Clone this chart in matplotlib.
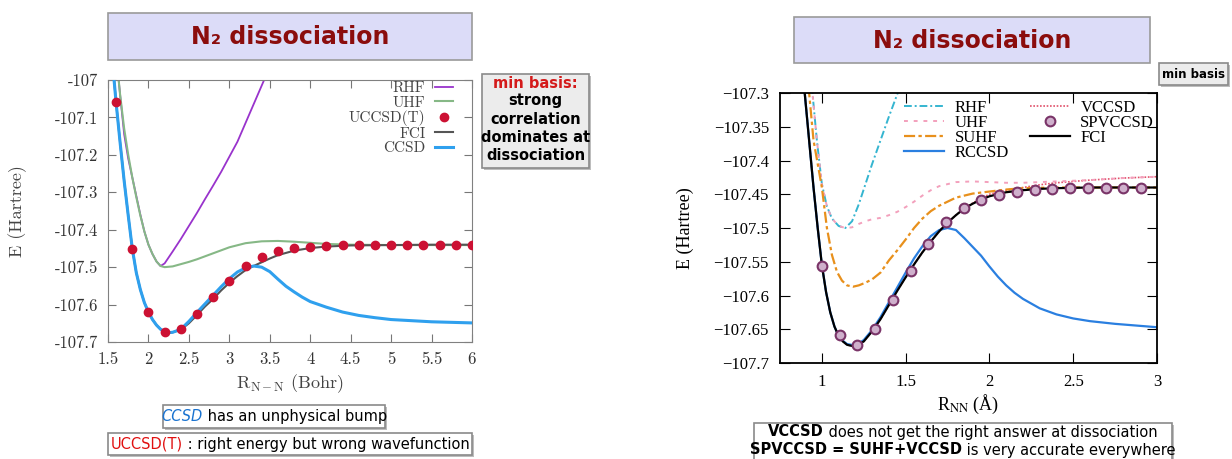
import matplotlib.pyplot as plt
from matplotlib.patches import Rectangle

W, H = 1232, 459

# ---------------- left panel (Bohr) ----------------
left_ticks_x = [1.5, 2, 2.5, 3, 3.5, 4, 4.5, 5, 5.5, 6]
left_ticks_y = [-107.7, -107.6, -107.5, -107.4, -107.3, -107.2, -107.1, -107.0]

rhf_b_r = [1.6, 1.65, 1.7, 1.75, 1.8, 1.85, 1.9, 1.95, 2.0, 2.05, 2.1, 2.15, 2.2, 2.3, 2.4,
           2.5, 2.6, 2.7, 2.8, 2.9, 3.0, 3.1, 3.2, 3.3, 3.4, 3.5]
rhf_b_e = [-106.93, -107.04, -107.145, -107.21, -107.26, -107.31, -107.36, -107.405, -107.44,
           -107.465, -107.485, -107.497, -107.49, -107.458, -107.425, -107.39, -107.355,
           -107.318, -107.282, -107.245, -107.205, -107.165, -107.115, -107.065, -107.015, -106.965]

uhf_b_r = [1.6, 1.65, 1.7, 1.75, 1.8, 1.85, 1.9, 1.95, 2.0, 2.05, 2.1, 2.15, 2.2, 2.3, 2.4, 2.5,
           2.6, 2.8, 3.0, 3.2, 3.4, 3.6, 3.8, 4.0, 4.2, 4.5, 5.0, 6.0]
uhf_b_e = [-106.93, -107.04, -107.13, -107.2, -107.26, -107.313, -107.362, -107.405, -107.44,
           -107.465, -107.485, -107.497, -107.5, -107.498, -107.492, -107.486, -107.479,
           -107.463, -107.447, -107.436, -107.431, -107.43, -107.432, -107.435, -107.438,
           -107.44, -107.441, -107.441]

fci_b_r = [1.55, 1.6, 1.65, 1.7, 1.75, 1.8, 1.85, 1.9, 1.95, 2.0, 2.05, 2.1, 2.15, 2.2, 2.25,
           2.3, 2.4, 2.5, 2.6, 2.7, 2.8, 2.9, 3.0, 3.1, 3.2, 3.3, 3.4, 3.5, 3.6, 3.8, 4.0,
           4.2, 4.5, 5.0, 5.5, 6.0]
fci_b_e = [-106.94, -107.06, -107.168, -107.27, -107.362, -107.45, -107.515, -107.56,
           -107.595, -107.62, -107.64, -107.655, -107.666, -107.672, -107.675, -107.674,
           -107.667, -107.65, -107.628, -107.605, -107.585, -107.562, -107.542, -107.524,
           -107.508, -107.497, -107.487, -107.477, -107.468, -107.456, -107.449, -107.445,
           -107.442, -107.441, -107.44, -107.44]

ccsd_b_r = [1.55, 1.6, 1.65, 1.7, 1.75, 1.8, 1.85, 1.9, 1.95, 2.0, 2.05, 2.1, 2.15, 2.2,
            2.25, 2.3, 2.4, 2.5, 2.6, 2.7, 2.8, 2.9, 3.0, 3.1, 3.2, 3.3, 3.4, 3.5, 3.6, 3.7,
            3.8, 3.9, 4.0, 4.2, 4.4, 4.6, 4.8, 5.0, 5.5, 6.0]
ccsd_b_e = [-106.94, -107.06, -107.168, -107.27, -107.362, -107.45, -107.515, -107.56,
            -107.595, -107.62, -107.64, -107.655, -107.666, -107.672, -107.675, -107.674,
            -107.666, -107.645, -107.621, -107.598, -107.575, -107.552, -107.531, -107.513,
            -107.502, -107.497, -107.5, -107.512, -107.532, -107.551, -107.566, -107.58,
            -107.592, -107.607, -107.62, -107.629, -107.635, -107.64, -107.646, -107.649]

uccsdt_r = [1.6, 1.8, 2.0, 2.2, 2.4, 2.6, 2.8, 3.0, 3.2, 3.4, 3.6, 3.8, 4.0, 4.2, 4.4, 4.6,
            4.8, 5.0, 5.2, 5.4, 5.6, 5.8, 6.0]
uccsdt_e = [-107.058, -107.452, -107.62, -107.672, -107.665, -107.625, -107.581, -107.536,
            -107.497, -107.474, -107.458, -107.45, -107.446, -107.443, -107.442, -107.441,
            -107.441, -107.44, -107.44, -107.44, -107.44, -107.44, -107.44]

# ---------------- right panel (Angstrom) ----------------
right_ticks_x = [1, 1.5, 2, 2.5, 3]
right_ticks_y = [-107.7, -107.65, -107.6, -107.55, -107.5, -107.45, -107.4, -107.35, -107.3]

rhf_a_r = [0.94, 0.97, 1.0, 1.03, 1.06, 1.1, 1.14, 1.18, 1.22, 1.26, 1.3, 1.35, 1.4, 1.46]
rhf_a_e = [-107.29, -107.37, -107.435, -107.468, -107.486, -107.497, -107.5, -107.49,
           -107.465, -107.435, -107.405, -107.37, -107.335, -107.295]

uhf_a_r = [0.94, 0.97, 1.0, 1.03, 1.06, 1.1, 1.14, 1.18, 1.22, 1.26, 1.3, 1.35, 1.4, 1.45,
           1.5, 1.55, 1.6, 1.65, 1.7, 1.8, 1.9, 2.0, 2.1, 2.2, 2.3, 2.4, 2.6, 2.8, 3.0]
uhf_a_e = [-107.29, -107.37, -107.435, -107.468, -107.486, -107.497, -107.5, -107.499,
           -107.494, -107.49, -107.487, -107.485, -107.481, -107.476, -107.469, -107.461,
           -107.452, -107.444, -107.438, -107.432, -107.431, -107.432, -107.433, -107.433,
           -107.432, -107.431, -107.429, -107.426, -107.424]

suhf_a_r = [0.92, 0.95, 1.0, 1.03, 1.06, 1.09, 1.12, 1.15, 1.185, 1.22, 1.26, 1.3, 1.35, 1.4,
            1.45, 1.5, 1.55, 1.6, 1.65, 1.7, 1.8, 1.9, 2.0, 2.1, 2.2, 2.4, 3.0]
suhf_a_e = [-107.29, -107.37, -107.44, -107.5, -107.54, -107.565, -107.578, -107.585,
            -107.587, -107.585, -107.581, -107.576, -107.566, -107.548, -107.533, -107.517,
            -107.5, -107.486, -107.475, -107.467, -107.455, -107.449, -107.446, -107.443,
            -107.441, -107.44, -107.44]

fci_a_r = [0.89, 0.92, 0.95, 0.975, 1.0, 1.025, 1.05, 1.075, 1.1, 1.125, 1.15, 1.2, 1.25,
           1.3, 1.35, 1.4, 1.45, 1.5, 1.55, 1.6, 1.65, 1.7, 1.75, 1.8, 1.85, 1.9, 1.95, 2.0,
           2.1, 2.2, 2.3, 2.4, 2.6, 2.8, 3.0]
fci_a_e = [-107.28, -107.36, -107.44, -107.5, -107.555, -107.595, -107.625, -107.646,
           -107.66, -107.668, -107.673, -107.676, -107.668, -107.653, -107.635, -107.614,
           -107.593, -107.573, -107.554, -107.536, -107.52, -107.505, -107.492, -107.481,
           -107.471, -107.464, -107.458, -107.453, -107.447, -107.444, -107.442, -107.441,
           -107.44, -107.44, -107.44]

rccsd_a_r = [0.89, 0.92, 0.95, 0.975, 1.0, 1.025, 1.05, 1.075, 1.1, 1.125, 1.15, 1.2, 1.25,
             1.3, 1.35, 1.4, 1.45, 1.5, 1.55, 1.6, 1.65, 1.7, 1.75, 1.8, 1.85, 1.9, 1.95,
             2.0, 2.05, 2.1, 2.15, 2.2, 2.3, 2.4, 2.5, 2.6, 2.75, 3.0]
rccsd_a_e = [-107.28, -107.36, -107.44, -107.5, -107.555, -107.595, -107.625, -107.646,
             -107.66, -107.667, -107.672, -107.674, -107.666, -107.651, -107.632, -107.61,
             -107.588, -107.566, -107.545, -107.527, -107.512, -107.503, -107.5, -107.503,
             -107.515, -107.528, -107.541, -107.557, -107.572, -107.585, -107.596, -107.605,
             -107.619, -107.628, -107.634, -107.638, -107.642, -107.647]

vccsd_a_r = [0.89, 0.92, 0.95, 0.975, 1.0, 1.025, 1.05, 1.075, 1.1, 1.125, 1.15, 1.2, 1.25,
             1.3, 1.35, 1.4, 1.45, 1.5, 1.55, 1.6, 1.65, 1.7, 1.75, 1.8, 1.85, 1.9, 1.95,
             2.0, 2.1, 2.2, 2.3, 2.4, 2.5, 2.6, 2.8, 3.0]
vccsd_a_e = [-107.28, -107.36, -107.44, -107.5, -107.555, -107.595, -107.625, -107.646,
             -107.66, -107.668, -107.673, -107.676, -107.668, -107.653, -107.635, -107.614,
             -107.593, -107.573, -107.554, -107.536, -107.52, -107.505, -107.492, -107.481,
             -107.471, -107.463, -107.456, -107.45, -107.444, -107.44, -107.436, -107.433,
             -107.431, -107.429, -107.426, -107.424]

spv_r = [1.0, 1.106, 1.212, 1.317, 1.423, 1.529, 1.635, 1.741, 1.846, 1.952, 2.058, 2.164,
         2.27, 2.375, 2.481, 2.587, 2.693, 2.799, 2.905]
spv_e = [-107.556, -107.658, -107.674, -107.649, -107.607, -107.563, -107.523, -107.491,
         -107.471, -107.458, -107.451, -107.447, -107.443, -107.442, -107.441, -107.44,
         -107.44, -107.44, -107.44]

# ---------------- figure ----------------
fig = plt.figure(figsize=(W / 100, H / 100), dpi=100)
fig.patch.set_facecolor("white")


def box(x0, y0, x1, y1, face, edge="#8f8f8f", lw=1.2, shadow=False):
    if shadow:
        fig.patches.append(Rectangle(((x0 + 2) / W, 1 - (y1 + 2) / H), (x1 - x0) / W,
                                     (y1 - y0) / H, transform=fig.transFigure,
                                     facecolor="#bdbdbd", edgecolor="none", zorder=0))
    fig.patches.append(Rectangle((x0 / W, 1 - y1 / H), (x1 - x0) / W, (y1 - y0) / H,
                                 transform=fig.transFigure, facecolor=face,
                                 edgecolor=edge, linewidth=lw, zorder=1))


def rich_line(parts, xc, y, size):
    r = fig.canvas.get_renderer()
    texts = []
    for s, color, weight, style in parts:
        t = fig.text(0, 1 - y / H, s, color=color, fontweight=weight, fontstyle=style,
                     fontsize=size, va="center", ha="left", family="DejaVu Sans", zorder=3)
        texts.append(t)
    widths = [t.get_window_extent(r).width for t in texts]
    x = xc - sum(widths) / 2
    for t, w in zip(texts, widths):
        t.set_x(x / W)
        x += w


# ---- left axes ----
ax1 = fig.add_axes([108 / W, 1 - 342 / H, 364 / W, 262 / H])
ax1.plot(rhf_b_r, rhf_b_e, color="#9933cc", lw=1.3, label="RHF")
ax1.plot(uhf_b_r, uhf_b_e, color="#86b886", lw=1.5, label="UHF")
ax1.plot(fci_b_r, fci_b_e, color="#555555", lw=1.5, label="FCI", zorder=3)
ax1.plot(ccsd_b_r, ccsd_b_e, color="#2fa0ee", lw=2.2, label="CCSD", zorder=4)
ax1.plot(uccsdt_r, uccsdt_e, "o", color="#cc1133", ms=6, label="UCCSD(T)", zorder=5)
ax1.set_xlim(1.5, 6)
ax1.set_ylim(-107.7, -107.0)
ax1.set_xticks(left_ticks_x, labels=[f"{v:g}" for v in left_ticks_x])
ax1.set_yticks(left_ticks_y, labels=[f"{v:g}" for v in left_ticks_y])
ax1.tick_params(direction="in", length=6, top=True, right=True, color="#777777",
                labelsize=12, pad=7, labelcolor="#333333")
for lab in ax1.get_xticklabels() + ax1.get_yticklabels():
    lab.set_family("cmr10")
for sp in ax1.spines.values():
    sp.set_color("#808080")
ax1.set_xlabel(r"R$_{\mathrm{N-N}}$ (Bohr)", family="cmr10", fontsize=13,
               math_fontfamily="cm", color="#444444")
ax1.xaxis.set_label_coords(0.5, -(372 - 342) / 262)
ax1.set_ylabel("E (Hartree)", family="cmr10", fontsize=13, color="#444444")
ax1.yaxis.set_label_coords(-(108 - 27) / 364, 0.5)
h, l = ax1.get_legend_handles_labels()
order = [0, 1, 4, 2, 3]
ax1.legend([h[i] for i in order], [l[i] for i in order], loc="upper right",
           bbox_to_anchor=(0.948, 0.995), markerfirst=False, frameon=False,
           prop={"family": "cmr10", "size": 11}, handlelength=1.2, labelspacing=0.05,
           borderaxespad=0, borderpad=0, handletextpad=0.6, labelcolor="#444444")

# ---- right axes ----
ax2 = fig.add_axes([780 / W, 1 - 363 / H, 377 / W, 270 / H])
ax2.plot(vccsd_a_r, vccsd_a_e, color="#e0506a", lw=1.2, ls=(0, (1, 1)), label="VCCSD")
ax2.plot(rhf_a_r, rhf_a_e, color="#35b5d0", lw=1.4, ls=(0, (4, 1.5, 1, 1.5)), label="RHF")
ax2.plot(uhf_a_r, uhf_a_e, color="#f3a0bc", lw=1.4, ls=(0, (2, 3)), label="UHF")
ax2.plot(suhf_a_r, suhf_a_e, color="#e8901c", lw=1.6, ls=(0, (5, 1.5, 1.5, 1.5)), label="SUHF")
ax2.plot(rccsd_a_r, rccsd_a_e, color="#2a7fe0", lw=1.6, label="RCCSD")
ax2.plot(fci_a_r, fci_a_e, color="black", lw=1.6, label="FCI", zorder=4)
ax2.plot(spv_r, spv_e, "o", mfc="#cfb0cc", mec="#7a3468", mew=1.5, ms=7, label="SPVCCSD",
         zorder=5)
ax2.set_xlim(0.75, 3)
ax2.set_ylim(-107.7, -107.3)
ax2.set_xticks(right_ticks_x, labels=[f"{v:g}" for v in right_ticks_x])
ax2.set_yticks(right_ticks_y, labels=[f"{v:g}".replace("-", "\u2212") for v in right_ticks_y])
ax2.tick_params(direction="in", length=7, top=True, right=True, labelsize=12, pad=8)
for lab in ax2.get_xticklabels() + ax2.get_yticklabels():
    lab.set_family("Liberation Serif")
for sp in ax2.spines.values():
    sp.set_linewidth(1.3)
ax2.set_xlabel(r"R$_{\mathrm{NN}}$ (Å)", family="Liberation Serif", fontsize=13,
               math_fontfamily="stix")
ax2.xaxis.set_label_coords(0.5, -(393 - 363) / 270)
ax2.set_ylabel("E (Hartree)", family="Liberation Serif", fontsize=13)
ax2.yaxis.set_label_coords(-(780 - 694) / 377, 0.5)
h, l = ax2.get_legend_handles_labels()
order = [1, 2, 3, 4, 0, 6, 5]
ax2.legend([h[i] for i in order], [l[i] for i in order], loc="upper left", ncol=2,
           bbox_to_anchor=(0.33, 0.975), frameon=False,
           prop={"family": "Liberation Serif", "size": 12}, handlelength=2.4,
           labelspacing=-0.05, borderaxespad=0, borderpad=0, handletextpad=0.6,
           columnspacing=1.3)

# ---- boxes and annotations ----
title_kw = dict(color="#8b0d0d", fontsize=17, fontweight="bold", family="DejaVu Sans",
                ha="center", va="center", zorder=3)
box(108, 13, 472, 60, "#dcdcf8", edge="#9a9a9a")
fig.text(290 / W, 1 - 37 / H, "N\u2082 dissociation", **title_kw)
box(794, 17, 1150, 63, "#dcdcf8", edge="#9a9a9a")
fig.text(972 / W, 1 - 41 / H, "N\u2082 dissociation", **title_kw)

box(482, 74, 589, 168, "#ececec", edge="#8a8a8a", shadow=True)
fig.text(535.5 / W, 1 - 83 / H, "min basis:", color="#d41a1a", fontsize=10.5,
         fontweight="bold", ha="center", va="center", zorder=3)
fig.text(535.5 / W, 1 - 128 / H, "strong\ncorrelation\ndominates at\ndissociation",
         color="black", fontsize=10.5, fontweight="bold", ha="center", va="center",
         linespacing=1.25, zorder=3)

box(1159, 63, 1228, 85, "#ececec", edge="#8a8a8a", shadow=True)
fig.text(1193.5 / W, 1 - 74 / H, "min basis", color="black", fontsize=8.5,
         fontweight="bold", ha="center", va="center", zorder=3)

box(163, 405, 385, 428, "white", edge="#8a8a8a", shadow=True)
rich_line([("CCSD", "#1a73d0", "normal", "italic"),
           (" has an unphysical bump", "black", "normal", "normal")], 274, 416.5, 10.5)
box(108, 433, 472, 455, "white", edge="#8a8a8a", shadow=True)
rich_line([("UCCSD(T)", "#e01010", "normal", "normal"),
           (" : right energy but wrong wavefunction", "black", "normal", "normal")],
          290, 444, 10.5)

box(754, 423, 1172, 462, "white", edge="#8a8a8a", shadow=True)
rich_line([("VCCSD", "black", "bold", "normal"),
           (" does not get the right answer at dissociation", "black", "normal", "normal")],
          963, 432, 10.5)
rich_line([("SPVCCSD = SUHF+VCCSD", "black", "bold", "normal"),
           (" is very accurate everywhere", "black", "normal", "normal")], 963, 450, 10.5)

fig.savefig("out.png", dpi=100)
